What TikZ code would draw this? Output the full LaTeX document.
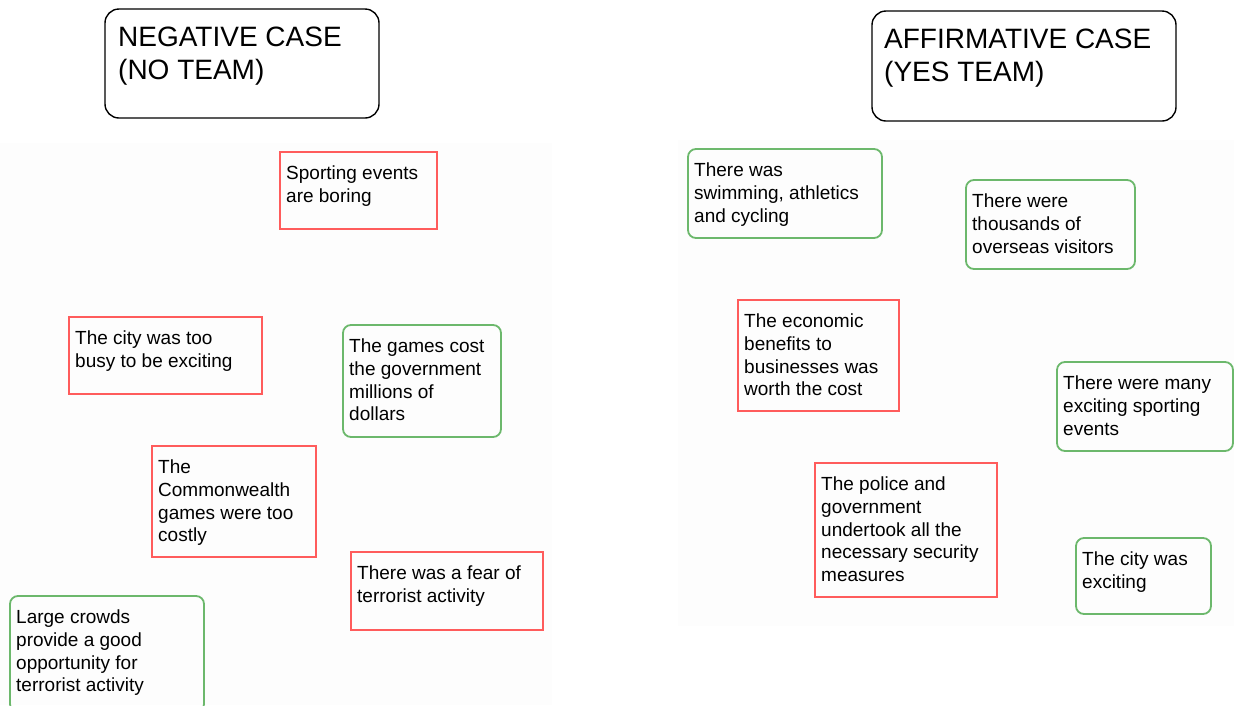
\documentclass[tikz,border=0pt]{standalone}
\usepackage{fontspec}
\setmainfont{Liberation Sans}
\definecolor{consred}{HTML}{FF5C5C}
\definecolor{prosgreen}{HTML}{6CB86C}
\begin{document}
\begin{tikzpicture}[x=1pt,y=-1pt,
  titlebox/.style={draw=black,line width=1.4pt,rounded corners=14pt},
  titletext/.style={anchor=north west,inner sep=0pt,align=left,
    font=\fontsize{28}{33}\selectfont},
  consbox/.style={draw=consred,line width=1.8pt},
  prosbox/.style={draw=prosgreen,line width=1.8pt,rounded corners=8pt},
  cardtext/.style={anchor=north west,inner sep=0pt,align=left,
    font=\fontsize{19}{22.6}\selectfont},
  panel/.style={fill=black!0.7,draw=none}]
\useasboundingbox (0,0) rectangle (1234,705);
% faint backdrop panels
\fill[panel] (0,143) rectangle (552,705);
\fill[panel] (678,140) rectangle (1234,626);
% headings
\draw[titlebox] (105,9) rectangle (379,118);
\node[titletext] (negtitle) at (118,27) {NEGATIVE CASE\\(NO TEAM)};
\draw[titlebox] (872,11) rectangle (1176,121);
\node[titletext] (afftitle) at (884,29) {AFFIRMATIVE CASE\\(YES TEAM)};
% argument cards: name, style, x1, y1, x2, y2, text
\newcommand\argcard[7]{%
  \draw[#2] (#3,#4) rectangle (#5,#6);
  \node[cardtext] (#1) at (#3+6,#4+14) {#7};}
% negative side
\argcard{boring}{consbox}{280}{152}{437}{229}{Sporting events\\are boring}
\argcard{busy}{consbox}{69}{317}{262}{394}{The city was too\\busy to be exciting}
\argcard{cost}{prosbox}{343}{325}{501}{437}{The games cost\\the government\\millions of\\dollars}
\argcard{costly}{consbox}{152}{446}{316}{557}{The\\Commonwealth\\games were too\\costly}
\argcard{fear}{consbox}{351}{552}{543}{630}{There was a fear of\\terrorist activity}
\argcard{crowds}{prosbox}{10}{596}{204}{712}{Large crowds\\provide a good\\opportunity for\\terrorist activity}
% affirmative side
\argcard{sports}{prosbox}{688}{149}{882}{238}{There was\\swimming, athletics\\and cycling}
\argcard{visitors}{prosbox}{966}{180}{1135}{269}{There were\\thousands of\\overseas visitors}
\argcard{economic}{consbox}{738}{300}{899}{411}{The economic\\benefits to\\businesses was\\worth the cost}
\argcard{many}{prosbox}{1057}{362}{1233}{451}{There were many\\exciting sporting\\events}
\argcard{police}{consbox}{815}{463}{997}{597}{The police and\\government\\undertook all the\\necessary security\\measures}
\argcard{exciting}{prosbox}{1076}{538}{1211}{614}{The city was\\exciting}
\end{tikzpicture}
\end{document}
